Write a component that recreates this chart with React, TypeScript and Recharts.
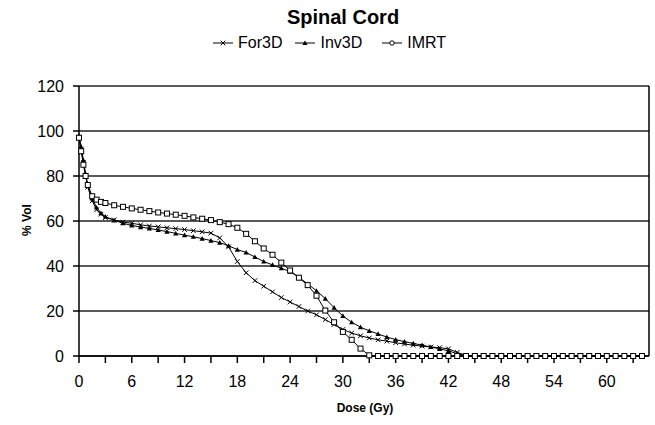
import React from "react";
import {
  LineChart,
  Line,
  XAxis,
  YAxis,
  CartesianGrid,
  ReferenceLine,
} from "recharts";

const FONT = "'Liberation Sans', Arial, sans-serif";

// dose (Gy) sample points
const dose = [
  0, 0.25, 0.5, 0.75, 1, 1.5, 2, 2.5, 3, 4, 5, 6, 7, 8, 9, 10, 11, 12, 13, 14,
  15, 16, 17, 18, 19, 20, 21, 22, 23, 24, 25, 26, 27, 28, 29, 30, 31, 32, 33,
  34, 35, 36, 37, 38, 39, 40, 41, 42, 43, 44, 45, 46, 47, 48, 49, 50, 51, 52,
  53, 54, 55, 56, 57, 58, 59, 60, 61, 62, 63, 64,
];

const for3D = [
  97, 92, 86, 80, 75, 69, 65, 63, 61.5, 60.5, 59.5, 59, 58.3, 57.8, 57.4, 57,
  56.6, 56.2, 55.7, 55.2, 54.6, 52.5, 48.5, 42, 37, 33.5, 31, 28.5, 26, 24, 22,
  20, 18.3, 16.2, 14, 11.8, 10.2, 9, 8, 7.2, 6.6, 5.9, 5.3, 4.8, 4.4, 4, 3.7,
  3.2, 1.6, 0.3, 0, 0, 0, 0, 0, 0, 0, 0, 0, 0, 0, 0, 0, 0, 0, 0, 0, 0, 0, 0,
];

const inv3D = [
  98, 93, 87, 81, 76, 70, 66, 63.5, 62, 60.3, 59, 58, 57.3, 56.7, 56, 55.3,
  54.5, 53.7, 53, 52.2, 51.3, 50.4, 49, 47.3, 46, 44, 42, 40.5, 39, 37.5, 35,
  32, 29, 25.5, 21.5, 17.8, 15, 12.8, 11.2, 9.8, 8.4, 7.3, 6.4, 5.6, 4.8, 4,
  3.2, 2.3, 1, 0.2, 0, 0, 0, 0, 0, 0, 0, 0, 0, 0, 0, 0, 0, 0, 0, 0, 0, 0, 0, 0,
];

const imrt = [
  97, 91, 85, 80, 76, 71, 69.5, 68.5, 68, 67, 66.3, 65.6, 65, 64.4, 63.8, 63.3,
  62.8, 62.3, 61.6, 61, 60.4, 59.5, 58.6, 57, 54.3, 51, 47.8, 45, 41.5, 38,
  34.8, 31.5, 26.8, 20.2, 15, 10.7, 7.2, 3.3, 0.3, 0, 0, 0, 0, 0, 0, 0, 0, 0,
  0, 0, 0, 0, 0, 0, 0, 0, 0, 0, 0, 0, 0, 0, 0, 0, 0, 0, 0, 0, 0, 0,
];

const xTicks = [
  0, 3, 6, 9, 12, 15, 18, 21, 24, 27, 30, 33, 36, 39, 42, 45, 48, 51, 54, 57,
  60, 63,
];
const yTicks = [0, 20, 40, 60, 80, 100, 120];

const rows = dose.map((d, i) => ({
  dose: d,
  For3D: for3D[i],
  Inv3D: inv3D[i],
  IMRT: imrt[i],
}));

const crossDot = (p: any) => {
  if (p.cx == null || p.cy == null) return <g key={p.index} />;
  const s = 2.3;
  return (
    <path
      key={p.index}
      d={`M${p.cx - s},${p.cy - s}L${p.cx + s},${p.cy + s}M${p.cx + s},${p.cy - s}L${p.cx - s},${p.cy + s}`}
      stroke="#000"
      strokeWidth={1}
    />
  );
};

const triDot = (p: any) => {
  if (p.cx == null || p.cy == null) return <g key={p.index} />;
  const s = 2.6;
  return (
    <path
      key={p.index}
      d={`M${p.cx},${p.cy - s}L${p.cx + s},${p.cy + s * 0.8}L${p.cx - s},${p.cy + s * 0.8}Z`}
      fill="#000"
    />
  );
};

const squareDot = (p: any) => {
  if (p.cx == null || p.cy == null) return <g key={p.index} />;
  return (
    <rect
      key={p.index}
      x={p.cx - 2.5}
      y={p.cy - 2.5}
      width={5}
      height={5}
      fill="#fff"
      stroke="#000"
      strokeWidth={1}
    />
  );
};

const legendItems = [
  { name: "For3D", marker: "cross", gap: 13 },
  { name: "Inv3D", marker: "tri", gap: 20 },
  { name: "IMRT", marker: "square", gap: 0 },
];

function LegendMarker({ kind }: { kind: string }) {
  return (
    <svg width={20} height={10} style={{ marginRight: 5 }}>
      <line x1={0} y1={5} x2={20} y2={5} stroke="#000" strokeWidth={1} />
      {kind === "cross" && crossDot({ cx: 10, cy: 5, index: 0 })}
      {kind === "tri" && triDot({ cx: 10, cy: 5, index: 0 })}
      {kind === "square" && (
        <circle cx={10} cy={5} r={2.2} fill="#fff" stroke="#000" />
      )}
    </svg>
  );
}

export default function App() {
  return (
    <div
      style={{
        position: "absolute",
        left: 0,
        top: 0,
        width: 655,
        height: 425,
        background: "#fff",
        fontFamily: FONT,
      }}
    >
      <div
        style={{
          position: "absolute",
          left: 243,
          top: 6,
          width: 200,
          textAlign: "center",
          fontSize: 20,
          fontWeight: "bold",
        }}
      >
        Spinal Cord
      </div>
      <div
        style={{
          position: "absolute",
          left: 213,
          top: 34,
          display: "flex",
          alignItems: "center",
          fontSize: 16,
          lineHeight: "18px",
        }}
      >
        {legendItems.map((it) => (
          <div
            key={it.name}
            style={{ display: "flex", alignItems: "center", marginRight: it.gap }}
          >
            <LegendMarker kind={it.marker} />
            <span>{it.name}</span>
          </div>
        ))}
      </div>
      <div
        style={{
          position: "absolute",
          left: 315,
          top: 401,
          width: 100,
          textAlign: "center",
          fontSize: 12,
          lineHeight: "14px",
          fontWeight: "bold",
        }}
      >
        Dose (Gy)
      </div>
      <div
        style={{
          position: "absolute",
          left: 2,
          top: 213,
          width: 50,
          textAlign: "center",
          fontSize: 12,
          lineHeight: "14px",
          fontWeight: "bold",
          transform: "rotate(-90deg)",
        }}
      >
        % Vol
      </div>
      <LineChart
        width={655}
        height={425}
        data={rows}
        margin={{ top: 86, right: 6, bottom: 0, left: 19 }}
      >
        <CartesianGrid
          horizontal={true}
          vertical={false}
          stroke="#222"
          strokeWidth={1.4}
        />
        <ReferenceLine x={64.8} stroke="#000" strokeWidth={1.5} />
        <XAxis
          dataKey="dose"
          type="number"
          domain={[0, 64.8]}
          ticks={xTicks}
          interval={0}
          height={69}
          tickSize={7}
          tickMargin={13}
          tickFormatter={(v: number) => (v % 6 === 0 ? String(v) : "")}
          axisLine={{ stroke: "#000", strokeWidth: 1.5 }}
          tickLine={{ stroke: "#000", strokeWidth: 1.5 }}
          tick={{ fill: "#000", fontSize: 16, fontFamily: FONT }}
        />
        <YAxis
          type="number"
          domain={[0, 120]}
          ticks={yTicks}
          interval={0}
          width={60}
          tickSize={6}
          tickMargin={9}
          axisLine={{ stroke: "#000", strokeWidth: 1.5 }}
          tickLine={{ stroke: "#000", strokeWidth: 1.5 }}
          tick={{ fill: "#000", fontSize: 16, fontFamily: FONT }}
        />
        <Line
          type="linear"
          dataKey="For3D"
          stroke="#000"
          strokeWidth={1}
          dot={crossDot}
          isAnimationActive={false}
        />
        <Line
          type="linear"
          dataKey="Inv3D"
          stroke="#000"
          strokeWidth={1}
          dot={triDot}
          isAnimationActive={false}
        />
        <Line
          type="linear"
          dataKey="IMRT"
          stroke="#000"
          strokeWidth={1}
          dot={squareDot}
          isAnimationActive={false}
        />
      </LineChart>
    </div>
  );
}
